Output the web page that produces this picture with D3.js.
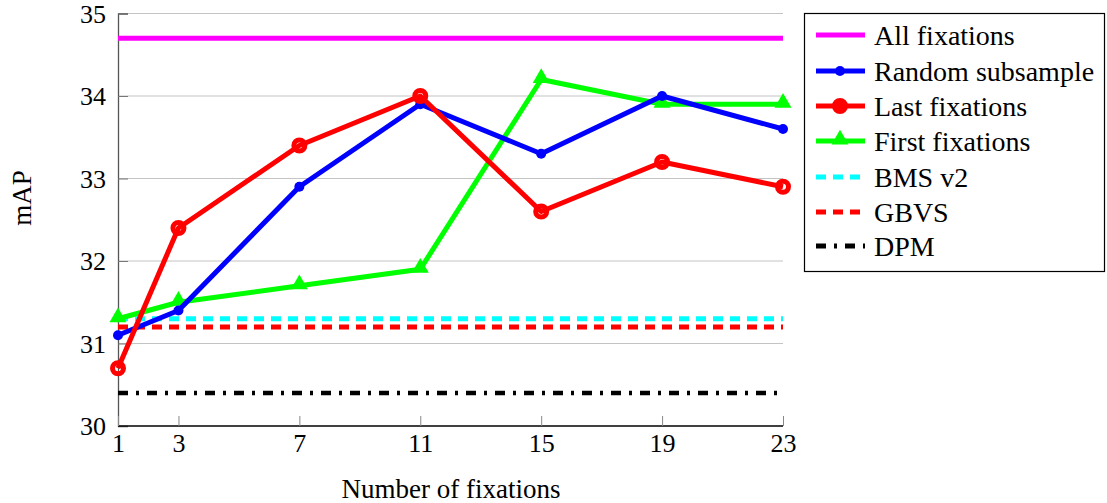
<!DOCTYPE html>
<html><head><meta charset="utf-8">
<script src="https://cdn.jsdelivr.net/npm/d3@7"></script>
<style>body{margin:0;background:#fff}svg{display:block}text{font-family:"Liberation Serif","Times New Roman",serif;fill:#000}</style>
</head><body><svg id="c" width="1107" height="503"></svg>
<script>
const xTicks = [1, 3, 7, 11, 15, 19, 23];
const yTicks = [30, 31, 32, 33, 34, 35];
const fixations = [1, 3, 7, 11, 15, 19, 23];
const randomSubsample = [31.1, 31.4, 32.9, 33.9, 33.3, 34.0, 33.6];
const lastFixations = [30.7, 32.4, 33.4, 34.0, 32.6, 33.2, 32.9];
const firstFixations = [31.3, 31.5, 31.7, 31.9, 34.2, 33.9, 33.9];
const allFixations = 34.7;
const bmsV2 = 31.3;
const gbvs = 31.2;
const dpm = 30.4;
const names = ["All fixations","Random subsample","Last fixations","First fixations","BMS v2","GBVS","DPM"];

const svg = d3.select("#c");
const x = d3.scaleLinear().domain([1, 23]).range([118, 783]);
const y = d3.scaleLinear().domain([30, 35]).range([426, 13.5]);

// grid
svg.append("g").selectAll("line").data(yTicks.filter(d=>d>30)).join("line")
  .attr("x1", x(1)).attr("x2", x(23)).attr("y1", d=>y(d)).attr("y2", d=>y(d))
  .attr("stroke", "#c4c4c4").attr("stroke-width", 1);

// axes
const yAxis = svg.append("g").attr("transform", `translate(${x(1)},0)`)
  .call(d3.axisLeft(y).tickValues(yTicks).tickFormat(d3.format("d")).tickSize(-10).tickPadding(12));
yAxis.attr("font-size", null).attr("font-family", null);
yAxis.select(".domain").attr("stroke", "#555").attr("stroke-width", 1.3);
yAxis.selectAll(".tick line").attr("stroke", "#777");
yAxis.selectAll(".tick text").style("font-size", "26px").attr("dy", "0.33em");

const xAxis = svg.append("g").attr("transform", `translate(0,${y(30)})`)
  .call(d3.axisBottom(x).tickValues(xTicks).tickFormat(d3.format("d")).tickSize(-10).tickPadding(7));
xAxis.attr("font-size", null).attr("font-family", null);
xAxis.select(".domain").attr("stroke", "#000").attr("stroke-width", 1.5).attr("d", `M${x(1)},0H${x(23)}`);
xAxis.selectAll(".tick line").attr("stroke", "#888");
xAxis.selectAll(".tick text").style("font-size", "26px").attr("dy", "0.72em");

svg.append("text").attr("x", 451).attr("y", 498).attr("text-anchor", "middle").style("font-size", "27px").text("Number of fixations");
svg.append("text").attr("transform", "translate(22,198) rotate(-90)").attr("text-anchor", "middle").attr("dy", "0.35em").style("font-size", "27px").text("mAP");

// horizontal reference lines
const hl = [
  {v: allFixations, c: "#ff00ff", dash: null, w: 5},
  {v: bmsV2, c: "#00ffff", dash: "10,7", w: 5},
  {v: gbvs, c: "#ff0000", dash: "10,7", w: 5},
  {v: dpm, c: "#000", dash: "10,8,3,8", w: 4.5}
];
svg.append("g").selectAll("line").data(hl).join("line")
  .attr("x1", x(1)).attr("x2", x(23)).attr("y1", d=>y(d.v)).attr("y2", d=>y(d.v))
  .attr("stroke", d=>d.c).attr("stroke-width", d=>d.w).attr("stroke-dasharray", d=>d.dash);

const line = d3.line().x((d,i)=>x(fixations[i])).y(d=>y(d));
const tri = d3.symbol().type(d3.symbolTriangle).size(125);

function drawSeries(vals, color, mark) {
  const g = svg.append("g");
  g.append("path").attr("d", line(vals)).attr("fill", "none").attr("stroke", color).attr("stroke-width", 5).attr("stroke-linejoin", "round");
  vals.forEach((v,i) => {
    const cx = x(fixations[i]), cy = y(v);
    if (mark === "dot") g.append("circle").attr("cx", cx).attr("cy", cy).attr("r", 5).attr("fill", color);
    else if (mark === "o") g.append("circle").attr("cx", cx).attr("cy", cy).attr("r", 5.5).attr("fill", "none").attr("stroke", color).attr("stroke-width", 5);
    else g.append("path").attr("d", tri()).attr("transform", `translate(${cx},${cy-1.5})`).attr("fill", color);
  });
}
drawSeries(firstFixations, "#00ff00", "tri");
drawSeries(randomSubsample, "#0000ff", "dot");
drawSeries(lastFixations, "#ff0000", "o");

// legend
const lg = svg.append("g");
lg.append("rect").attr("x", 804.5).attr("y", 13.5).attr("width", 300).attr("height", 258).attr("fill", "#fff").attr("stroke", "#000").attr("stroke-width", 1.2);
const rowY = [35, 71, 106, 141, 177, 212, 246];
const sty = [
  {c:"#ff00ff", dash:null, m:null},
  {c:"#0000ff", dash:null, m:"dot"},
  {c:"#ff0000", dash:null, m:"o"},
  {c:"#00ff00", dash:null, m:"tri"},
  {c:"#00ffff", dash:"10,7", m:null},
  {c:"#ff0000", dash:"10,7", m:null},
  {c:"#000", dash:"10,8,3,8", m:null}
];
names.forEach((n,i) => {
  const yy = rowY[i], s = sty[i];
  lg.append("line").attr("x1", 816).attr("x2", 865).attr("y1", yy).attr("y2", yy)
    .attr("stroke", s.c).attr("stroke-width", 5).attr("stroke-dasharray", s.dash);
  if (s.m === "dot") lg.append("circle").attr("cx", 840).attr("cy", yy).attr("r", 5).attr("fill", s.c);
  if (s.m === "o") lg.append("circle").attr("cx", 840).attr("cy", yy).attr("r", 6.5).attr("fill", s.c).attr("stroke", s.c).attr("stroke-width", 3);
  if (s.m === "tri") lg.append("path").attr("d", tri()).attr("transform", `translate(840,${yy-1.5})`).attr("fill", s.c);
  lg.append("text").attr("x", 874).attr("y", yy).attr("dy", "0.35em").style("font-size", "28px").text(n);
});
</script></body></html>
